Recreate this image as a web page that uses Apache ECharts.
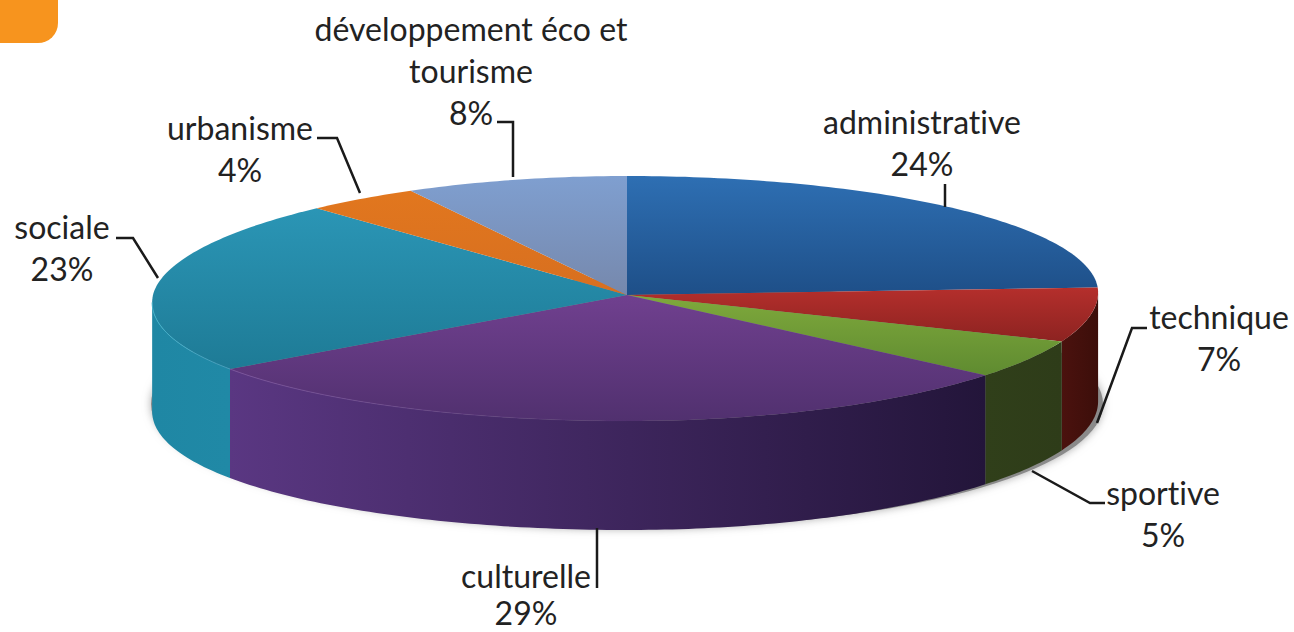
<!DOCTYPE html>
<html>
<head>
<meta charset="utf-8">
<title>Répartition</title>
<script src="https://cdn.jsdelivr.net/npm/echarts@6/dist/echarts.min.js"></script>
<style>
    html, body {margin: 0; padding: 0; background: #fff;}
    #chart {width: 1294px; height: 632px;}
    #chart text {font-variant-ligatures: none;}
</style>
</head>
<body>
<div id="chart"></div>
<script>
// valeurs, dans le sens horaire depuis le haut
const categories = ['administrative', 'technique', 'sportive', 'culturelle', 'sociale', 'urbanisme', 'développement éco et\ntourisme'];
const values = [24, 7, 5, 29, 23, 4, 8];

// dessus de chaque part : [couleur haut, couleur bas, y haut, y bas]
const topColors = [
    ['#2e6fb3', '#1e4f88', 176, 295],
    ['#b52f2c', '#8a2220', 287, 345],
    ['#7fa93c', '#5e8a30', 295, 378],
    ['#70408f', '#50306e', 295, 424],
    ['#2b96b6', '#1e7b96', 205, 368],
    ['#e2771e', '#d76f20', 188, 295],
    ['#7f9fd0', '#7688ac', 176, 295]
];
// flanc de chaque part
const wallColors = [
    ['#4a120f', '#4a120f'],
    ['#4b120e', '#3c0e0a'],
    ['#303f1a', '#2e3c19'],
    ['#5a3782', '#23153a'],
    ['#1f87a4', '#2089a6'],
    ['#1f87a4', '#1f87a4'],
    ['#1f87a4', '#1f87a4']
];
const edgeColors = [null, null, null, '#7d55a0', '#3fb0c8', null, null];

// position des étiquettes : centre du texte, première ligne, interligne, trait de rappel
const labelLayout = [
    {x: 922, y: 121, gap: 42, line: [[945, 184], [945, 207]]},
    {x: 1219, y: 316, gap: 42, line: [[1147, 328], [1132, 328], [1097, 423]]},
    {x: 1163, y: 492, gap: 42, line: [[1105, 503], [1090, 503], [1032, 471]]},
    {x: 526, y: 575, gap: 37, line: [[597, 528], [597, 588]]},
    {x: 62, y: 226, gap: 42, line: [[116, 238], [133, 238], [158, 278]]},
    {x: 240, y: 127, gap: 42, line: [[317, 138], [337, 138], [360, 193]]},
    {x: 471, y: 28, gap: 42, line: [[497, 122], [513, 122], [513, 177]]}
];

const cx = 627, cy = 295, rxLeft = 474, rxRight = 471, ryBack = 119, ryFront = 126, depth = 109;
// angles des points extrêmes à droite et à gauche : le flanc s'arrête là
const wallStart = 89, wallEnd = 266.6;

const total = values.reduce((a, b) => a + b, 0);
let acc = 0;
const angles = values.map(v => {
    const a = [acc / total * 360, (acc + v) / total * 360];
    acc += v;
    return a;
});

// point du bord supérieur, t en degrés depuis le haut
function rim(t) {
    const r = t * Math.PI / 180;
    const s = Math.sin(r), c = Math.cos(r);
    // perspective : le devant gauche s'ouvre un peu plus que l'arrière
    const k = s < 0 ? 0.06 : -0.02;
    const rx = s < 0 ? rxLeft : rxRight;
    return [cx + rx * s * (1 - k * c), cy - (c > 0 ? ryBack : ryFront) * c];
}

function arc(t0, t1) {
    const pts = [];
    const n = Math.max(2, Math.ceil(t1 - t0));
    for (let i = 0; i <= n; i++) {
        pts.push(rim(t0 + (t1 - t0) * i / n));
    }
    return pts;
}

function renderSlice(params, api) {
    const i = params.dataIndex;
    const [t0, t1] = angles[i];
    const children = [];

    // flanc visible
    const w0 = Math.max(t0, wallStart), w1 = Math.min(t1, wallEnd);
    let front = null;
    if (w1 > w0) {
        front = arc(w0, w1);
        const below = front.slice().reverse().map(p => [p[0], p[1] + depth]);
        children.push({
            type: 'polygon',
            z2: 1,
            shape: {points: front.concat(below)},
            style: {
                fill: {
                    type: 'linear', global: true,
                    // de gauche à droite sur la part
                    x: rim(w1)[0], y: 0, x2: rim(w0)[0], y2: 0,
                    colorStops: [{offset: 0, color: wallColors[i][0]}, {offset: 1, color: wallColors[i][1]}]
                }
            }
        });
    }

    const tc = topColors[i];
    children.push({
        type: 'polygon',
        z2: 2,
        shape: {points: [[cx, cy]].concat(arc(t0, t1))},
        style: {
            fill: {
                type: 'linear', global: true,
                x: 0, y: tc[2], x2: 0, y2: tc[3],
                colorStops: [{offset: 0, color: tc[0]}, {offset: 1, color: tc[1]}]
            }
        }
    });

    // filet clair sur l'arête, seulement côté gauche
    if (front && edgeColors[i]) {
        children.push({
            type: 'polyline',
            z2: 3,
            shape: {points: arc(Math.max(t0, 180), Math.min(t1, wallEnd))},
            style: {
                fill: null,
                lineWidth: 1,
                stroke: {
                    type: 'linear', global: true,
                    x: 150, y: 0, x2: 640, y2: 0,
                    colorStops: [{offset: 0, color: edgeColors[i]}, {offset: 1, color: 'rgba(125,85,160,0)'}]
                }
            }
        });
    }

    const lay = labelLayout[i];
    children.push({
        type: 'polyline',
        z2: 4,
        shape: {points: lay.line},
        style: {fill: null, stroke: '#1a1a1a', lineWidth: 2.5}
    });
    const lines = categories[i].split('\n').concat(api.value(0) + '%');
    lines.forEach((txt, j) => {
        children.push({
            type: 'text',
            z2: 5,
            style: {
                x: lay.x,
                y: lay.y + j * lay.gap,
                text: txt,
                align: 'center',
                verticalAlign: 'middle',
                fill: '#222',
                fontFamily: 'Lato',
                fontSize: 32
            }
        });
    });

    return {type: 'group', children: children};
}

const myChart = echarts.init(document.getElementById('chart'), null, {renderer: 'svg'});
myChart.setOption({
    backgroundColor: '#fff',
    animation: false,
    graphic: [
        // onglet orange du coin
        {
            type: 'rect', z: 0,
            shape: {x: -20, y: -20, width: 78, height: 63, r: [0, 0, 20, 0]},
            style: {fill: '#f7941e'}
        },
        // ombre sous le disque
        {
            type: 'ellipse', z: 0,
            shape: {cx: 627, cy: 404, rx: 476, ry: 125},
            style: {fill: '#8a8a8a', shadowBlur: 8, shadowColor: '#aaa'}
        }
    ],
    series: [{
        type: 'custom',
        coordinateSystem: 'none',
        silent: true,
        renderItem: renderSlice,
        data: values
    }]
});
</script>
</body>
</html>
